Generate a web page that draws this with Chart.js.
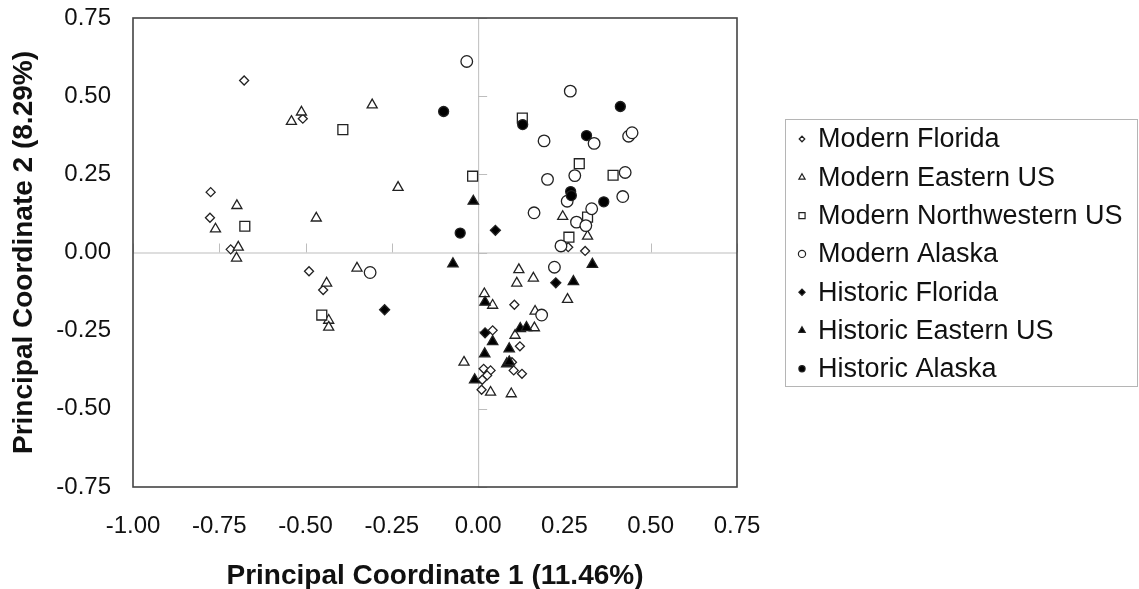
<!DOCTYPE html>
<html>
<head>
<meta charset="utf-8">
<script src="https://cdn.jsdelivr.net/npm/chart.js@4.4.1/dist/chart.umd.min.js"></script>
<style>
html, body { margin: 0; padding: 0; background: #fff; }
#wrap { width: 1139px; height: 589px; }
</style>
</head>
<body>
<div id="wrap"><canvas id="chart"></canvas></div>
<script>
// series names (legend order)
const seriesNames = [
    "Modern Florida",
    "Modern Eastern US",
    "Modern Northwestern US",
    "Modern Alaska",
    "Historic Florida",
    "Historic Eastern US",
    "Historic Alaska"
];

// [PCo1, PCo2]
const modernFlorida = [
    [-0.678, 0.55], [-0.775, 0.193], [-0.777, 0.111], [-0.717, 0.01], [-0.508, 0.428],
    [-0.49, -0.06], [-0.449, -0.12], [0.261, 0.017], [0.31, 0.005], [0.105, -0.167],
    [0.042, -0.249], [0.121, -0.3], [0.098, -0.351], [0.103, -0.377], [0.127, -0.388],
    [0.016, -0.372], [0.036, -0.377], [0.026, -0.393], [0.012, -0.407], [0.01, -0.439]
];
const modernEastern = [
    [-0.512, 0.449], [-0.541, 0.419], [-0.307, 0.472], [-0.232, 0.208], [-0.699, 0.15],
    [-0.469, 0.11], [-0.761, 0.075], [-0.695, 0.017], [-0.70, -0.018], [-0.351, -0.05],
    [-0.439, -0.098], [-0.433, -0.217], [-0.433, -0.239], [-0.041, -0.351], [0.245, 0.115],
    [0.317, 0.052], [0.118, -0.055], [0.16, -0.082], [0.112, -0.098], [0.259, -0.15],
    [0.018, -0.132], [0.042, -0.169], [0.165, -0.188], [0.163, -0.241], [0.107, -0.265],
    [0.036, -0.447], [0.096, -0.452]
];
const modernNorthwestern = [
    [-0.392, 0.393], [-0.676, 0.084], [-0.453, -0.2], [-0.016, 0.244], [0.128, 0.43],
    [0.293, 0.284], [0.391, 0.247], [0.263, 0.049], [0.317, 0.113]
];
const modernAlaska = [
    [-0.313, -0.064], [-0.033, 0.611], [0.267, 0.516], [0.191, 0.357], [0.336, 0.349],
    [0.436, 0.372], [0.446, 0.383], [0.201, 0.234], [0.28, 0.246], [0.426, 0.256],
    [0.419, 0.179], [0.258, 0.164], [0.162, 0.127], [0.329, 0.14], [0.285, 0.097],
    [0.312, 0.086], [0.24, 0.021], [0.221, -0.047], [0.184, -0.2]
];
const historicFlorida = [
    [-0.271, -0.183], [0.05, 0.071], [0.225, -0.097], [0.02, -0.257]
];
const historicEastern = [
    [-0.014, 0.164], [-0.073, -0.036], [0.331, -0.038], [0.276, -0.093], [0.02, -0.159],
    [0.122, -0.243], [0.14, -0.24], [0.042, -0.285], [0.09, -0.308], [0.019, -0.324],
    [0.083, -0.356], [0.09, -0.35], [-0.01, -0.407]
];
const historicAlaska = [
    [-0.1, 0.451], [-0.052, 0.062], [0.129, 0.409], [0.412, 0.467], [0.314, 0.374],
    [0.268, 0.195], [0.27, 0.182], [0.364, 0.162]
];

const xTicks = [-1.00, -0.75, -0.50, -0.25, 0.00, 0.25, 0.50, 0.75];
const yTicks = [-0.75, -0.50, -0.25, 0.00, 0.25, 0.50, 0.75];

const allSeries = [modernFlorida, modernEastern, modernNorthwestern, modernAlaska,
                   historicFlorida, historicEastern, historicAlaska];
const shapes = ["rectRot", "triangle", "rect", "circle", "rectRot", "triangle", "circle"];
const radii = [4.5, 5.8, 7, 5.8, 5, 6, 5];
const fills = ["#fff", "#fff", "#fff", "#fff", "#000", "#000", "#000"];

const FONT = "'Liberation Sans', Arial, sans-serif";

const datasets = allSeries.map(function (pts, i) {
    return {
        label: seriesNames[i],
        data: pts.map(p => ({x: p[0], y: p[1]})),
        pointStyle: shapes[i],
        pointRadius: radii[i],
        pointBackgroundColor: fills[i],
        pointBorderColor: "#222",
        pointBorderWidth: 1.3,
        showLine: false,
        order: allSeries.length - i
    };
});

// zero axes with small ticks, and the dark frame
const axesPlugin = {
    id: "axesPlugin",
    beforeDatasetsDraw(chart) {
        const ctx = chart.ctx;
        const a = chart.chartArea;
        const xs = chart.scales.x, ys = chart.scales.y;
        const x0 = xs.getPixelForValue(0), y0 = ys.getPixelForValue(0);
        ctx.save();
        ctx.strokeStyle = "#bdbdbd";
        ctx.lineWidth = 1;
        ctx.beginPath();
        ctx.moveTo(a.left, y0 + 0.5);
        ctx.lineTo(a.right, y0 + 0.5);
        ctx.moveTo(x0 + 0.5, a.top);
        ctx.lineTo(x0 + 0.5, a.bottom);
        xTicks.forEach(function (v) {
            const px = Math.round(xs.getPixelForValue(v)) + 0.5;
            ctx.moveTo(px, y0);
            ctx.lineTo(px, y0 - 9);
        });
        yTicks.forEach(function (v) {
            const py = Math.round(ys.getPixelForValue(v)) + 0.5;
            ctx.moveTo(x0, py);
            ctx.lineTo(x0 + 9, py);
        });
        ctx.stroke();
        ctx.strokeStyle = "#444";
        ctx.lineWidth = 1.6;
        ctx.strokeRect(a.left, a.top, a.right - a.left, a.bottom - a.top);
        ctx.restore();
    }
};

// boxed legend on the right
const legendPlugin = {
    id: "legendBox",
    afterDraw(chart) {
        const ctx = chart.ctx;
        ctx.save();
        ctx.strokeStyle = "#b5b5b5";
        ctx.lineWidth = 1;
        ctx.strokeRect(785.5, 119.5, 352, 267);
        ctx.font = "27px " + FONT;
        ctx.textBaseline = "middle";
        seriesNames.forEach(function (name, i) {
            const y = 139 + i * 38.3;
            ctx.fillStyle = fills[i];
            ctx.strokeStyle = "#222";
            ctx.lineWidth = 1.2;
            Chart.helpers.drawPoint(ctx, {
                pointStyle: shapes[i],
                radius: radii[i] * 0.62,
                rotation: 0,
                borderWidth: 1.2
            }, 802, y);
            ctx.fillStyle = "#111";
            ctx.fillText(name, 818, y + 1);
        });
        ctx.restore();
    }
};

new Chart(document.getElementById("chart"), {
    type: "scatter",
    data: {datasets: datasets},
    options: {
        responsive: true,
        maintainAspectRatio: false,
        animation: false,
        layout: {padding: {top: 18, right: 402, bottom: 0, left: 0}},
        plugins: {
            legend: {display: false},
            tooltip: {enabled: false}
        },
        scales: {
            x: {
                type: "linear",
                min: -1,
                max: 0.75,
                afterBuildTicks: function (scale) {
                    scale.ticks = xTicks.map(v => ({value: v}));
                },
                afterFit: function (scale) {
                    scale.height = 102;
                },
                grid: {display: false, drawTicks: false},
                border: {display: false},
                ticks: {
                    padding: 25,
                    color: "#111",
                    font: {family: FONT, size: 24},
                    maxRotation: 0,
                    callback: v => v.toFixed(2)
                },
                title: {
                    display: true,
                    text: "Principal Coordinate 1 (11.46%)",
                    color: "#111",
                    font: {family: FONT, size: 28, weight: "bold", lineHeight: 0.9},
                    padding: {top: 0, bottom: 0}
                }
            },
            y: {
                type: "linear",
                min: -0.75,
                max: 0.75,
                afterBuildTicks: function (scale) {
                    scale.ticks = yTicks.map(v => ({value: v}));
                },
                afterFit: function (scale) {
                    scale.width = 133;
                },
                // tick marks are not drawn (grid hidden) but tickLength pushes the labels left
                grid: {display: false, drawTicks: true, tickLength: 22},
                border: {display: false},
                ticks: {
                    padding: 0,
                    color: "#111",
                    font: {family: FONT, size: 24},
                    callback: v => v.toFixed(2)
                },
                title: {
                    display: true,
                    text: "Principal Coordinate 2 (8.29%)",
                    color: "#111",
                    font: {family: FONT, size: 28, weight: "bold", lineHeight: 1.0},
                    padding: {top: 10, bottom: 0}
                }
            }
        }
    },
    plugins: [axesPlugin, legendPlugin]
});
</script>
</body>
</html>
